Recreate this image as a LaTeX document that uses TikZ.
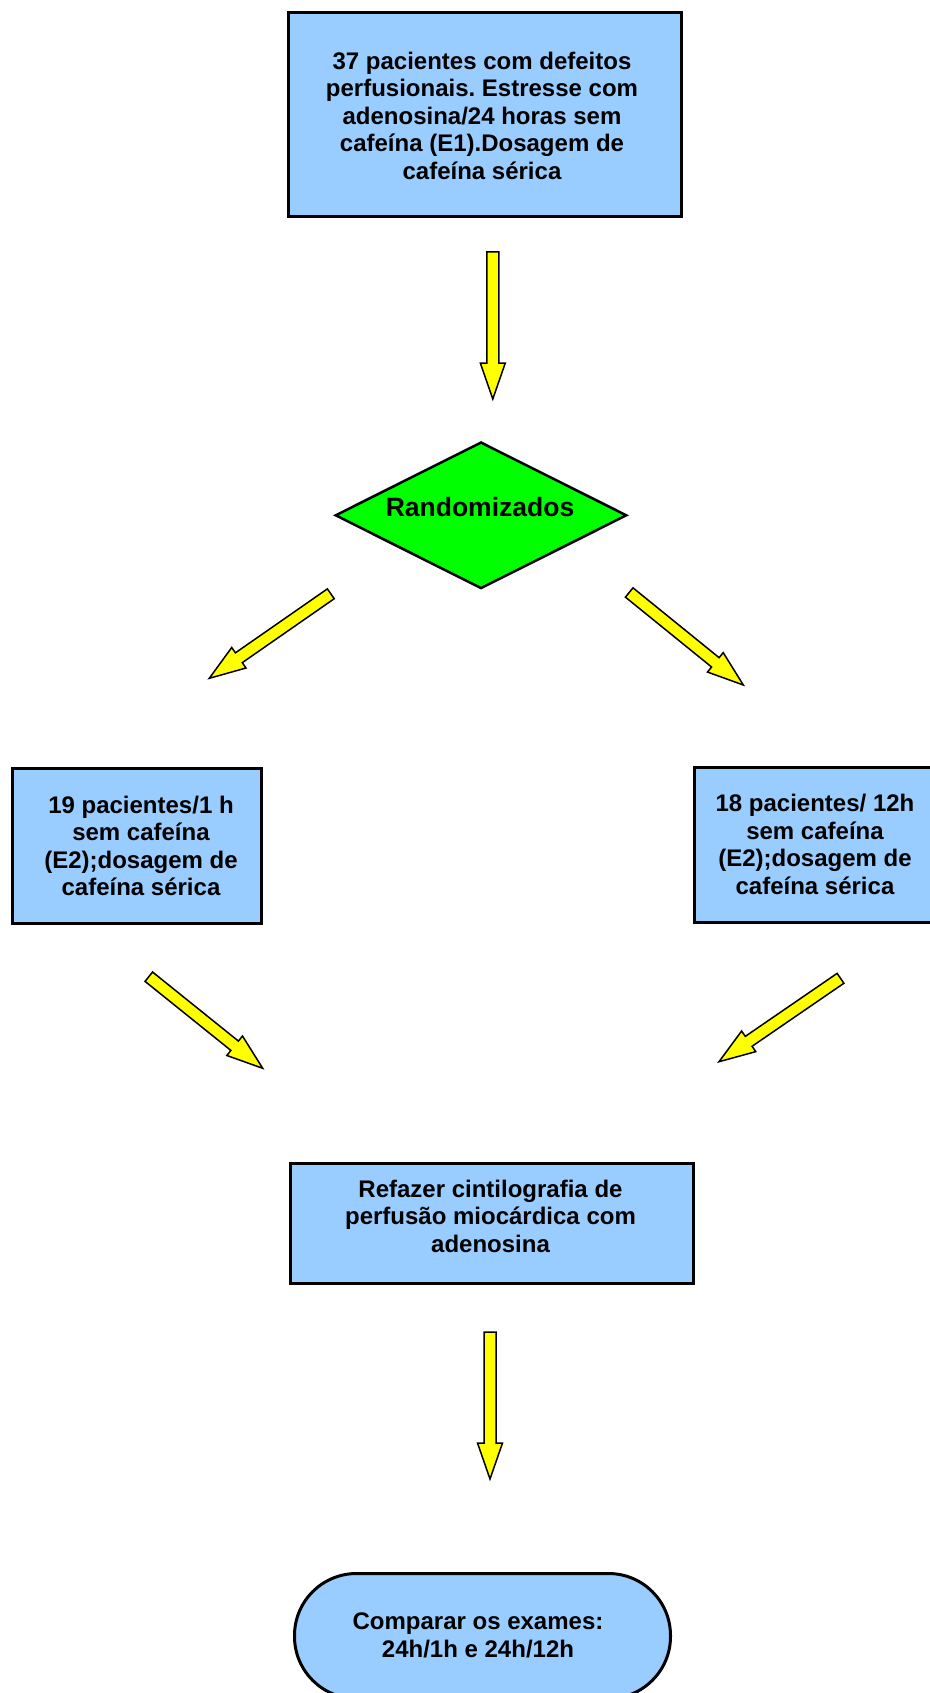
\documentclass[tikz,border=0pt]{standalone}
\usepackage{fontspec}
\setmainfont{Liberation Sans}
\frenchspacing
\usetikzlibrary{calc,shapes.geometric}
\definecolor{boxblue}{HTML}{99CCFF}
\definecolor{dgreen}{HTML}{00FF00}
\definecolor{ayellow}{HTML}{FFFF00}
\tikzset{
  box/.style={draw=black, fill=boxblue, line width=3pt, rectangle, inner sep=0pt},
  decision/.style={draw=black, fill=dgreen, line width=2.5pt, diamond, inner sep=0pt},
  terminal/.style={draw=black, fill=boxblue, line width=3pt, rectangle, rounded corners=62pt, inner sep=0pt},
  txt/.style={align=center, inner sep=0pt, font=\fontsize{24}{27.6}\selectfont\bfseries},
  fatarrow/.style={draw=black, fill=ayellow, line width=1.5pt, line join=miter},
}
\newcommand\blockarrow[2]{%
  \coordinate (ba-n) at ($(#2)!36pt!(#1)$);
  \filldraw[fatarrow] ($(#1)!6pt!90:(#2)$) -- ($(ba-n)!6pt!90:(#2)$) -- ($(ba-n)!12.5pt!90:(#2)$)
    -- (#2) -- ($(ba-n)!12.5pt!-90:(#2)$) -- ($(ba-n)!6pt!-90:(#2)$) -- ($(#1)!6pt!-90:(#2)$) -- cycle;
}
\begin{document}
\begin{tikzpicture}[x=1pt, y=-1pt]
\useasboundingbox (0,0) rectangle (929,1693);
\fill[white] (0,0) rectangle (929,1693);

% shapes
\node[box, minimum width=392.5pt, minimum height=203.7pt] (start) at (485.2,114.6) {};
\node[decision, minimum width=291.6pt, minimum height=146.6pt] (rand) at (481,515.3) {};
\node[box, minimum width=249pt, minimum height=155.5pt] (left) at (137,845.8) {};
\node[box, minimum width=242.5pt, minimum height=155.3pt] (right) at (815.75,844.9) {};
\node[box, minimum width=403pt, minimum height=120.5pt] (redo) at (492,1223.7) {};
\node[terminal, minimum width=376pt, minimum height=125pt] (compare) at (482.5,1636) {};

% texts
\node[txt] (starttext) at (482,115.7) {37 pacientes com defeitos\\perfusionais. Estresse com\\adenosina/24 horas sem\\cafeína (E1).Dosagem de\\cafeína sérica};
\node[txt, font=\fontsize{26.5}{30}\selectfont\bfseries] (randtext) at (480,507) {Randomizados};
\node[txt] (lefttext) at (141,846) {19 pacientes/1 h\\sem cafeína\\(E2);dosagem de\\cafeína sérica};
\node[txt] (righttext) at (815,844.5) {18 pacientes/ 12h\\sem cafeína\\(E2);dosagem de\\cafeína sérica};
\node[txt] (redotext) at (490.5,1216.4) {Refazer cintilografia de\\perfusão miocárdica com\\adenosina};
\node[txt] (comparetext) at (478,1635.3) {Comparar os exames:\\24h/1h e 24h/12h};

% arrow end points
\coordinate (a1s) at (492.8,252);   \coordinate (a1e) at (492.8,399);
\coordinate (a2s) at (330.8,593.8); \coordinate (a2e) at (209.3,678.3);
\coordinate (a3s) at (629.2,592.5); \coordinate (a3e) at (743.3,685);
\coordinate (a4s) at (148.8,976.7); \coordinate (a4e) at (262.7,1068.3);
\coordinate (a5s) at (840.5,978.3); \coordinate (a5e) at (719,1061.7);
\coordinate (a6s) at (490,1332);    \coordinate (a6e) at (490,1479);

\blockarrow{a1s}{a1e}
\blockarrow{a2s}{a2e}
\blockarrow{a3s}{a3e}
\blockarrow{a4s}{a4e}
\blockarrow{a5s}{a5e}
\blockarrow{a6s}{a6e}
\end{tikzpicture}
\end{document}
